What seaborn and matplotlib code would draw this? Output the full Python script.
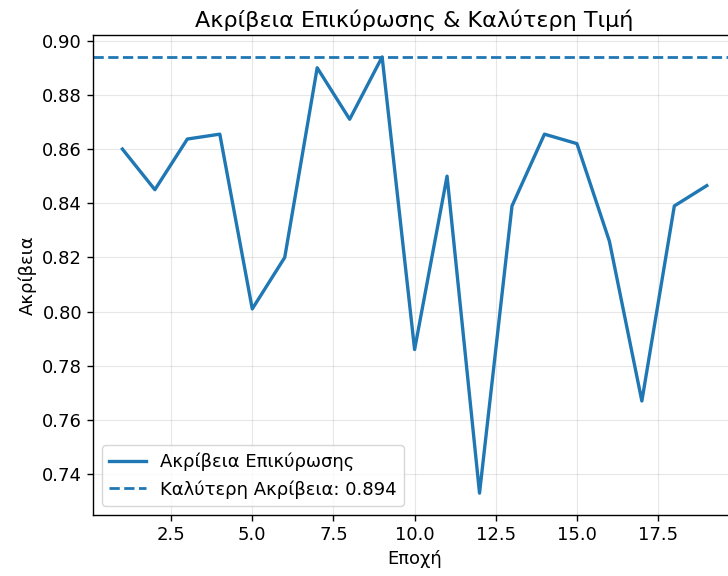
import numpy as np
import pandas as pd
import matplotlib
matplotlib.use('Agg')
import matplotlib.pyplot as plt
import seaborn as sns

# Validation accuracy per epoch
epochs = list(range(1, 20))
val_acc = [0.860, 0.845, 0.8637, 0.8655, 0.801, 0.820, 0.890, 0.871, 0.894,
           0.786, 0.850, 0.733, 0.839, 0.8655, 0.862, 0.826, 0.767, 0.839, 0.8465]
best_acc = 0.894

df = pd.DataFrame({'Epoch': epochs, 'Acc': val_acc})

plt.rcParams['font.family'] = ['DejaVu Sans']

fig = plt.figure(figsize=(7.28, 5.76), dpi=100)
ax = fig.add_axes([0.128, 0.106, 0.883, 0.833])

sns.lineplot(data=df, x='Epoch', y='Acc', ax=ax, color='#1f77b4',
             linewidth=2.4, label='Ακρίβεια Επικύρωσης')
ax.axhline(best_acc, color='#1f77b4', linestyle='--', linewidth=2.0,
           label=f'Καλύτερη Ακρίβεια: {best_acc:.3f}')

ax.set_title('Ακρίβεια Επικύρωσης & Καλύτερη Τιμή', fontsize=16)
ax.set_xlabel('Εποχή', fontsize=13)
ax.set_ylabel('Ακρίβεια', fontsize=13)
ax.tick_params(labelsize=13, length=4.5, width=1.0)
for s in ax.spines.values():
    s.set_linewidth(1.0)
ax.grid(True, alpha=0.3)
ax.legend(loc='lower left', fontsize=13)

fig.savefig('out.png', dpi=100)
